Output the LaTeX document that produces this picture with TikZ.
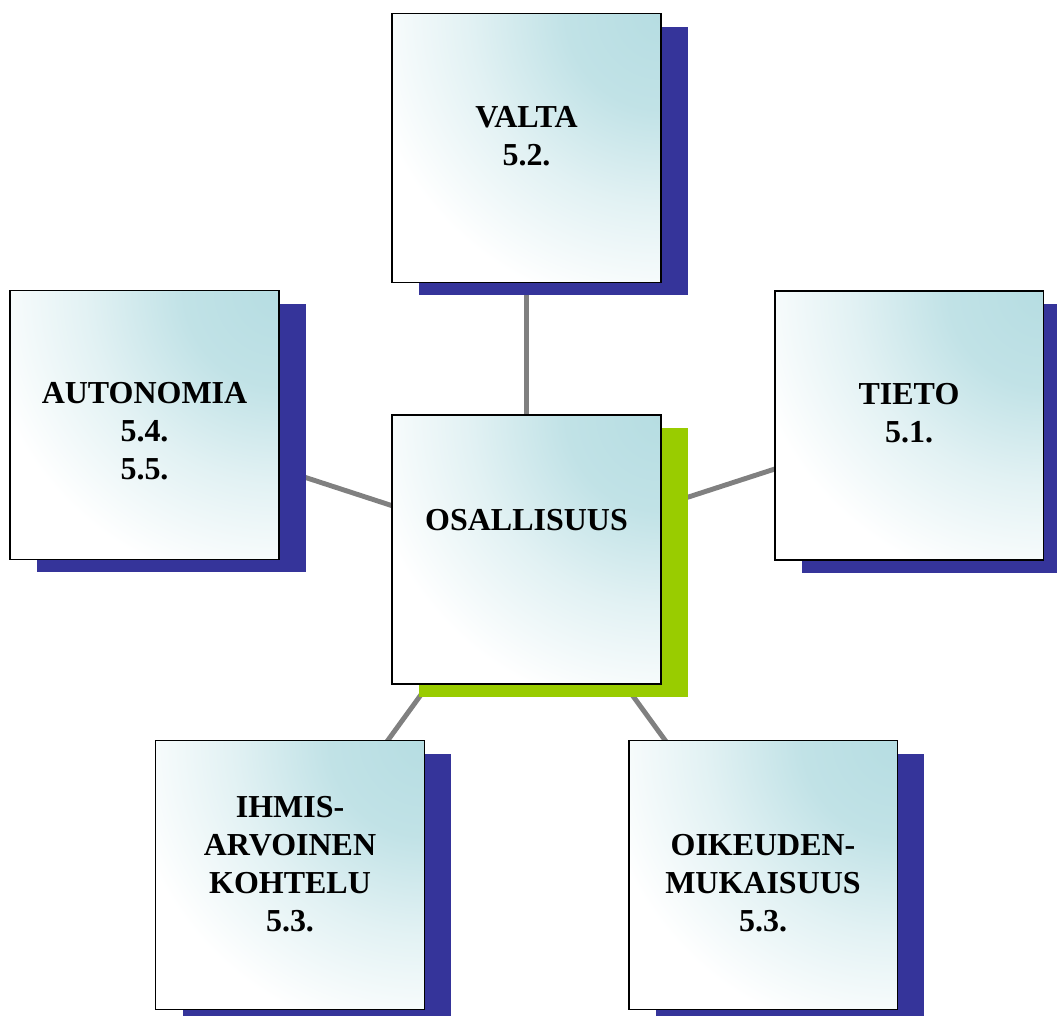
\documentclass[tikz,border=0pt]{standalone}
\usepackage{fontspec}
\setmainfont{Liberation Serif}
\usepackage{tikz}
\usetikzlibrary{shadows}
\usetikzlibrary{calc,backgrounds}

\definecolor{boxcyan}{RGB}{182,221,226}
\definecolor{navyshadow}{RGB}{53,52,154}
\definecolor{limeshadow}{RGB}{153,204,0}
\definecolor{linkgray}{RGB}{128,128,128}

\pgfdeclareradialshading{cornerglow}{\pgfpoint{0bp}{0bp}}{%
  color(0bp)=(boxcyan); color(8bp)=(boxcyan!85!white);
  color(16bp)=(boxcyan!40!white); color(25bp)=(white); color(50bp)=(white)}

\tikzset{
  box/.style={draw=black, line width=1.1pt, fill=white, minimum size=5.38cm,
    path picture={\shade[shading=cornerglow]
      (path picture bounding box.north east) circle (6cm);}},
  blueshadow/.style={drop shadow={shadow xshift=0.54cm, shadow yshift=-0.26cm, fill=navyshadow, opacity=1}},
  greenshadow/.style={drop shadow={shadow xshift=0.54cm, shadow yshift=-0.26cm, fill=limeshadow, opacity=1}},
  caption/.style={align=center, font=\fontsize{18.2pt}{21.6pt}\selectfont\bfseries, inner sep=0pt},
  link/.style={draw=linkgray, line width=2.8pt}
}

\begin{document}
\begin{tikzpicture}[x=0.02cm, y=-0.02cm]
\useasboundingbox (0,0) rectangle (1057,1016);
\clip (0,0) rectangle (1057,1016);

% outer boxes
\node[box,blueshadow] (valta) at (526.5,148) {};
\node[box,blueshadow] (autonomia) at (144.5,425) {};
\node[box,blueshadow] (tieto) at (909,425.5) {};
\node[box,blueshadow] (ihmis) at (290,875) {};
\node[box,blueshadow] (oikeus) at (763,875) {};
% centre box
\node[box,greenshadow] (osallisuus) at (526.5,549.5) {};

% texts
\node[caption] (valta-t) at ($(valta.center)+(0,-11.5)$) {VALTA\\5.2.};
\node[caption] (autonomia-t) at ($(autonomia.center)+(0,6.5)$) {AUTONOMIA\\5.4.\\5.5.};
\node[caption] (tieto-t) at ($(tieto.center)+(0,-12)$) {TIETO\\5.1.};
\node[caption] (ihmis-t) at ($(ihmis.center)+(0,-11)$) {IHMIS-\\ARVOINEN\\KOHTELU\\5.3.};
\node[caption] (oikeus-t) at ($(oikeus.center)+(0,8)$) {OIKEUDEN-\\MUKAISUUS\\5.3.};
\node[caption] (osallisuus-t) at ($(osallisuus.center)+(0,-29.5)$) {OSALLISUUS};

% links behind everything
\begin{pgfonlayer}{background}
\draw[link] (osallisuus.center) -- (valta.center);
\draw[link] (osallisuus.center) -- (autonomia.center);
\draw[link] (osallisuus.center) -- (tieto.center);
\draw[link] (osallisuus.center) -- (ihmis.center);
\draw[link] (osallisuus.center) -- (oikeus.center);
\end{pgfonlayer}
\end{tikzpicture}
\end{document}
